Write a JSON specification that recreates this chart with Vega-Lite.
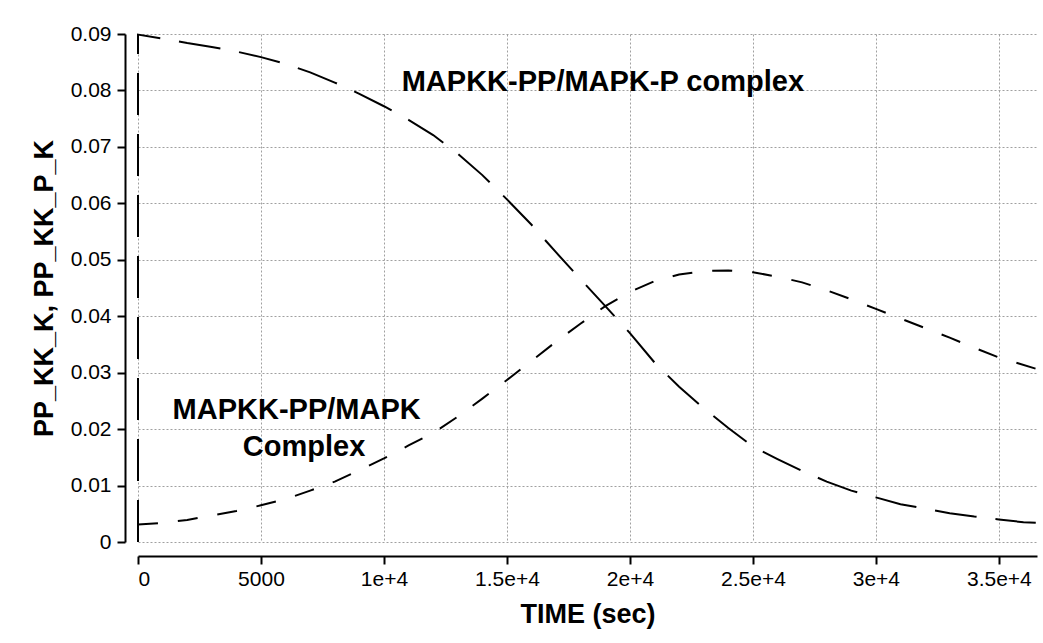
{
  "$schema": "https://vega.github.io/schema/vega-lite/v6.json",
  "width": 899,
  "height": 508,
  "autosize": "none",
  "padding": {"left": 138, "top": 34, "right": 6, "bottom": 101},
  "background": "white",
  "config": {
    "view": {"stroke": null},
    "font": "Liberation Sans",
    "axis": {
      "domainColor": "black",
      "domainWidth": 2,
      "tickColor": "black",
      "tickWidth": 2,
      "tickSize": 8,
      "labelColor": "black",
      "labelFont": "Liberation Sans",
      "labelFontSize": 21,
      "titleColor": "black",
      "titleFont": "Liberation Sans",
      "titleFontSize": 27,
      "titleFontWeight": "bold",
      "gridColor": "#a0a0a0",
      "gridDash": [2, 2],
      "gridWidth": 1
    }
  },
  "datasets": {
    "curves": [
      {"i": 0, "s": "PP_KK_P_K", "t": 0, "v": 0},
      {"i": 1, "s": "PP_KK_P_K", "t": 0, "v": 0.0899},
      {"i": 2, "s": "PP_KK_P_K", "t": 1000, "v": 0.0892},
      {"i": 3, "s": "PP_KK_P_K", "t": 2000, "v": 0.0884},
      {"i": 4, "s": "PP_KK_P_K", "t": 3000, "v": 0.0877},
      {"i": 5, "s": "PP_KK_P_K", "t": 4000, "v": 0.0869},
      {"i": 6, "s": "PP_KK_P_K", "t": 5000, "v": 0.0859},
      {"i": 7, "s": "PP_KK_P_K", "t": 6000, "v": 0.0847},
      {"i": 8, "s": "PP_KK_P_K", "t": 7000, "v": 0.0832},
      {"i": 9, "s": "PP_KK_P_K", "t": 8000, "v": 0.0814},
      {"i": 10, "s": "PP_KK_P_K", "t": 9000, "v": 0.0794},
      {"i": 11, "s": "PP_KK_P_K", "t": 10000, "v": 0.0772},
      {"i": 12, "s": "PP_KK_P_K", "t": 11000, "v": 0.0748},
      {"i": 13, "s": "PP_KK_P_K", "t": 12000, "v": 0.0721},
      {"i": 14, "s": "PP_KK_P_K", "t": 13000, "v": 0.0688},
      {"i": 15, "s": "PP_KK_P_K", "t": 14000, "v": 0.065},
      {"i": 16, "s": "PP_KK_P_K", "t": 15000, "v": 0.0607},
      {"i": 17, "s": "PP_KK_P_K", "t": 16000, "v": 0.0562},
      {"i": 18, "s": "PP_KK_P_K", "t": 17000, "v": 0.0513},
      {"i": 19, "s": "PP_KK_P_K", "t": 18000, "v": 0.0465},
      {"i": 20, "s": "PP_KK_P_K", "t": 19000, "v": 0.0418},
      {"i": 21, "s": "PP_KK_P_K", "t": 20000, "v": 0.037},
      {"i": 22, "s": "PP_KK_P_K", "t": 21000, "v": 0.0318},
      {"i": 23, "s": "PP_KK_P_K", "t": 22000, "v": 0.0275},
      {"i": 24, "s": "PP_KK_P_K", "t": 23000, "v": 0.0237},
      {"i": 25, "s": "PP_KK_P_K", "t": 24000, "v": 0.0202},
      {"i": 26, "s": "PP_KK_P_K", "t": 25000, "v": 0.0169},
      {"i": 27, "s": "PP_KK_P_K", "t": 26000, "v": 0.0147},
      {"i": 28, "s": "PP_KK_P_K", "t": 27000, "v": 0.0126},
      {"i": 29, "s": "PP_KK_P_K", "t": 28000, "v": 0.0107},
      {"i": 30, "s": "PP_KK_P_K", "t": 29000, "v": 0.0091},
      {"i": 31, "s": "PP_KK_P_K", "t": 30000, "v": 0.0079},
      {"i": 32, "s": "PP_KK_P_K", "t": 31000, "v": 0.0067},
      {"i": 33, "s": "PP_KK_P_K", "t": 32000, "v": 0.0059},
      {"i": 34, "s": "PP_KK_P_K", "t": 33000, "v": 0.0051},
      {"i": 35, "s": "PP_KK_P_K", "t": 34000, "v": 0.0045},
      {"i": 36, "s": "PP_KK_P_K", "t": 35000, "v": 0.004},
      {"i": 37, "s": "PP_KK_P_K", "t": 36000, "v": 0.0035},
      {"i": 38, "s": "PP_KK_P_K", "t": 36500, "v": 0.0034},
      {"i": 0, "s": "PP_KK_K", "t": 0, "v": 0.0031},
      {"i": 1, "s": "PP_KK_K", "t": 1000, "v": 0.0034},
      {"i": 2, "s": "PP_KK_K", "t": 2000, "v": 0.0039},
      {"i": 3, "s": "PP_KK_K", "t": 3000, "v": 0.0047},
      {"i": 4, "s": "PP_KK_K", "t": 4000, "v": 0.0055},
      {"i": 5, "s": "PP_KK_K", "t": 5000, "v": 0.0065},
      {"i": 6, "s": "PP_KK_K", "t": 6000, "v": 0.0076},
      {"i": 7, "s": "PP_KK_K", "t": 7000, "v": 0.0091},
      {"i": 8, "s": "PP_KK_K", "t": 8000, "v": 0.0107},
      {"i": 9, "s": "PP_KK_K", "t": 9000, "v": 0.0127},
      {"i": 10, "s": "PP_KK_K", "t": 10000, "v": 0.0148},
      {"i": 11, "s": "PP_KK_K", "t": 11000, "v": 0.0171},
      {"i": 12, "s": "PP_KK_K", "t": 12000, "v": 0.0193},
      {"i": 13, "s": "PP_KK_K", "t": 13000, "v": 0.0222},
      {"i": 14, "s": "PP_KK_K", "t": 14000, "v": 0.0254},
      {"i": 15, "s": "PP_KK_K", "t": 15000, "v": 0.0287},
      {"i": 16, "s": "PP_KK_K", "t": 16000, "v": 0.0321},
      {"i": 17, "s": "PP_KK_K", "t": 17000, "v": 0.0355},
      {"i": 18, "s": "PP_KK_K", "t": 18000, "v": 0.0387},
      {"i": 19, "s": "PP_KK_K", "t": 19000, "v": 0.0418},
      {"i": 20, "s": "PP_KK_K", "t": 20000, "v": 0.0443},
      {"i": 21, "s": "PP_KK_K", "t": 21000, "v": 0.0462},
      {"i": 22, "s": "PP_KK_K", "t": 22000, "v": 0.0474},
      {"i": 23, "s": "PP_KK_K", "t": 23000, "v": 0.048},
      {"i": 24, "s": "PP_KK_K", "t": 24000, "v": 0.0481},
      {"i": 25, "s": "PP_KK_K", "t": 25000, "v": 0.0478},
      {"i": 26, "s": "PP_KK_K", "t": 26000, "v": 0.047},
      {"i": 27, "s": "PP_KK_K", "t": 27000, "v": 0.046},
      {"i": 28, "s": "PP_KK_K", "t": 28000, "v": 0.0446},
      {"i": 29, "s": "PP_KK_K", "t": 29000, "v": 0.043},
      {"i": 30, "s": "PP_KK_K", "t": 30000, "v": 0.0413},
      {"i": 31, "s": "PP_KK_K", "t": 31000, "v": 0.0396},
      {"i": 32, "s": "PP_KK_K", "t": 32000, "v": 0.0379},
      {"i": 33, "s": "PP_KK_K", "t": 33000, "v": 0.0362},
      {"i": 34, "s": "PP_KK_K", "t": 34000, "v": 0.0344},
      {"i": 35, "s": "PP_KK_K", "t": 35000, "v": 0.0327},
      {"i": 36, "s": "PP_KK_K", "t": 36500, "v": 0.0307}
    ],
    "labels": [
      {"t": 18900, "v": 0.0815, "text": "MAPKK-PP/MAPK-P complex"},
      {"t": 6450, "v": 0.0234, "text": "MAPKK-PP/MAPK"},
      {"t": 6750, "v": 0.0168, "text": "Complex"}
    ]
  },
  "layer": [
    {
      "data": {"name": "curves"},
      "mark": {"type": "line", "color": "black", "strokeWidth": 2, "clip": false},
      "encoding": {
        "x": {
          "field": "t",
          "type": "quantitative",
          "scale": {"domain": [0, 36550], "nice": false, "zero": false},
          "axis": {
            "title": "TIME (sec)",
            "offset": 14,
            "values": [0, 5000, 10000, 15000, 20000, 25000, 30000, 35000],
            "format": "d",
            "labelExpr": "datum.value < 10000 ? datum.label : (datum.value / 10000) + 'e+4'",
            "labelPadding": 4,
            "titlePadding": 12
          }
        },
        "y": {
          "field": "v",
          "type": "quantitative",
          "scale": {"domain": [0, 0.09], "nice": false},
          "axis": {
            "title": "PP_KK_K, PP_KK_P_K",
            "offset": 13,
            "values": [0, 0.01, 0.02, 0.03, 0.04, 0.05, 0.06, 0.07, 0.08, 0.09],
            "format": ".2~f",
            "labelPadding": 6,
            "titlePadding": 12
          }
        },
        "detail": {"field": "s"},
        "order": {"field": "i"},
        "strokeDash": {
          "field": "s",
          "type": "nominal",
          "scale": {"domain": ["PP_KK_P_K", "PP_KK_K"], "range": [[42, 19], [20, 20]]},
          "legend": null
        }
      }
    },
    {
      "data": {"name": "labels"},
      "mark": {"type": "text", "font": "Liberation Sans", "fontWeight": "bold", "fontSize": 29, "color": "black", "align": "center", "baseline": "middle"},
      "encoding": {
        "x": {"field": "t", "type": "quantitative"},
        "y": {"field": "v", "type": "quantitative"},
        "text": {"field": "text"}
      }
    }
  ]
}
